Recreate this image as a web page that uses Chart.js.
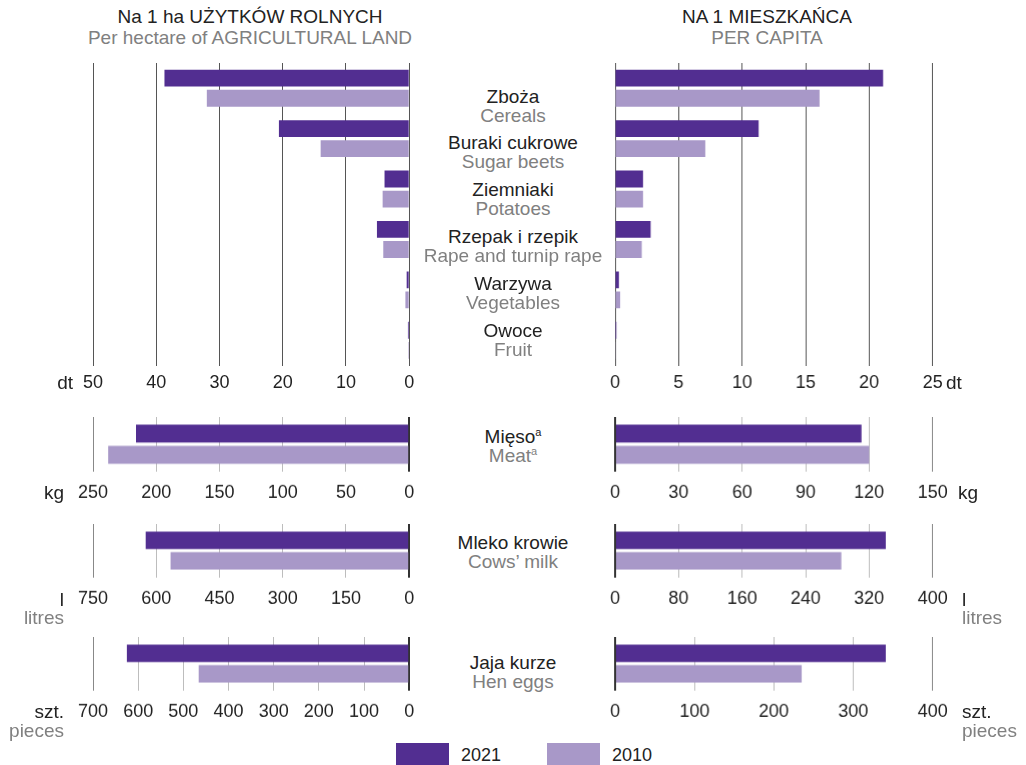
<!DOCTYPE html>
<html>
<head>
<meta charset="utf-8">
<script src="https://cdn.jsdelivr.net/npm/chart.js@4/dist/chart.umd.min.js"></script>
<style>
  body { margin: 0; background: #fff; font-family: "Liberation Sans", Arial, sans-serif; }
  #wrap { position: relative; width: 1026px; height: 765px; overflow: hidden; }
  .panel { position: absolute; }
  .txt { position: absolute; font-size: 19px; line-height: 20px; color: #222; white-space: nowrap; }
  .num { font-size: 18px; }
  .gray { color: #808080; }
  .ctr { transform: translateX(-50%); text-align: center; }
  .rt { transform: translateX(-100%); text-align: right; }
  sup { font-size: 11px; line-height: 0; vertical-align: 7px; }
  .box { position: absolute; width: 53px; height: 24px; }
</style>
</head>
<body>
<div id="wrap"></div>
<script>
// categories
const topNamesPl = ["Zboża", "Buraki cukrowe", "Ziemniaki", "Rzepak i rzepik", "Warzywa", "Owoce"];
const topNamesEn = ["Cereals", "Sugar beets", "Potatoes", "Rape and turnip rape", "Vegetables", "Fruit"];

// crops, dt
const haCrops2021 = [38.7, 20.6, 3.9, 5.1, 0.4, 0.2];
const haCrops2010 = [32.0, 14.0, 4.2, 4.1, 0.6, 0.15];
const capCrops2021 = [21.1, 11.3, 2.2, 2.8, 0.3, 0.1];
const capCrops2010 = [16.1, 7.1, 2.2, 2.1, 0.4, 0.05];

// meat kg, milk l, eggs pieces -> [2021, 2010]
const haMeat = [216, 238];
const capMeat = [116.4, 120];
const haMilk = [625, 566];
const capMilk = [341, 285];
const haEggs = [625, 466];
const capEggs = [341, 235];

const years = ["2021", "2010"];
const colors = ["#522e91", "#a898c8"];

const wrap = document.getElementById("wrap");

function addText(html, x, y, cls) {
  const d = document.createElement("div");
  d.className = "txt " + (cls || "");
  d.style.left = x + "px";
  d.style.top = (y - 10) + "px";
  d.innerHTML = html;
  wrap.appendChild(d);
  return d;
}

const PAD = 30;
const AXIS_H = 32;

function makePanel(opts) {
  const plotW = opts.right - opts.left;
  const plotH = opts.bottom - opts.top;
  const div = document.createElement("div");
  div.className = "panel";
  div.style.left = (opts.left - PAD) + "px";
  div.style.top = opts.top + "px";
  div.style.width = (plotW + 2 * PAD) + "px";
  div.style.height = (plotH + AXIS_H) + "px";
  const cv = document.createElement("canvas");
  div.appendChild(cv);
  wrap.appendChild(div);

  const gridColor = (c) => {
    if (opts.top > 400) {
      if (c.tick.value === 0) return "#333";
      if (c.tick.value === opts.max) return "#888";
      return "#bdbdbd";
    }
    return "#555";
  };

  return new Chart(cv, {
    type: "bar",
    data: {
      labels: opts.labels,
      datasets: [
        { label: years[0], data: opts.d2021, backgroundColor: colors[0] },
        { label: years[1], data: opts.d2010, backgroundColor: colors[1] },
      ],
    },
    options: {
      indexAxis: "y",
      responsive: true,
      maintainAspectRatio: false,
      animation: false,
      layout: { padding: { left: PAD, right: PAD, top: 0, bottom: 0 } },
      plugins: { legend: { display: false }, tooltip: { enabled: false } },
      datasets: { bar: { categoryPercentage: opts.catPct, barPercentage: opts.barPct } },
      scales: {
        y: { display: false },
        x: {
          min: 0,
          max: opts.max,
          reverse: opts.reverse,
          afterFit: (s) => { s.height = AXIS_H; },
          border: { display: false },
          grid: { color: gridColor, lineWidth: (c) => (opts.top > 400 && c.tick.value === 0 ? 2 : 1), drawTicks: false },
          ticks: {
            stepSize: opts.step,
            padding: opts.tickPad,
            color: "#222",
            font: { family: "'Liberation Sans', Arial, sans-serif", size: 18 },
          },
        },
      },
    },
  });
}

const L = { left: 93.3, right: 409.5 };
const R = { left: 615.3, right: 932 };

const rows = [
  { top: 62.5, bottom: 365, labels: topNamesPl, en: topNamesEn, ha: [haCrops2021, haCrops2010], cap: [capCrops2021, capCrops2010],
    maxL: 50, stepL: 10, maxR: 25, stepR: 5, catPct: 0.796, barPct: 0.836, tickPad: 7 },
  { top: 417, bottom: 470.7, labels: ["Mięso<sup>a</sup>"], en: ["Meat<sup>a</sup>"], ha: [[haMeat[0]], [haMeat[1]]], cap: [[capMeat[0]], [capMeat[1]]],
    maxL: 250, stepL: 50, maxR: 150, stepR: 30, catPct: 0.78, barPct: 0.843, tickPad: 11, off: 3 },
  { top: 524, bottom: 576.5, labels: ["Mleko krowie"], en: ["Cows’ milk"], ha: [[haMilk[0]], [haMilk[1]]], cap: [[capMilk[0]], [capMilk[1]]],
    maxL: 750, stepL: 150, maxR: 400, stepR: 80, catPct: 0.78, barPct: 0.843, tickPad: 11, off: 2 },
  { top: 637, bottom: 689.5, labels: ["Jaja kurze"], en: ["Hen eggs"], ha: [[haEggs[0]], [haEggs[1]]], cap: [[capEggs[0]], [capEggs[1]]],
    maxL: 700, stepL: 100, maxR: 400, stepR: 100, catPct: 0.78, barPct: 0.843, tickPad: 11, off: 9 },
];

rows.forEach((r, i) => {
  makePanel({ left: L.left, right: L.right, top: r.top, bottom: r.bottom, labels: r.labels, d2021: r.ha[0], d2010: r.ha[1],
    max: r.maxL, step: r.stepL, reverse: true, catPct: r.catPct, barPct: r.barPct, tickPad: r.tickPad });
  const chart = makePanel({ left: R.left, right: R.right, top: r.top, bottom: r.bottom, labels: r.labels, d2021: r.cap[0], d2010: r.cap[1],
    max: r.maxR, step: r.stepR, reverse: false, catPct: r.catPct, barPct: r.barPct, tickPad: r.tickPad });

  // category labels between the panels
  const ys = chart.scales.y;
  const mid = (chart.chartArea.top + chart.chartArea.bottom) / 2;
  r.labels.forEach((name, k) => {
    let y = ys.getPixelForValue(k);
    if (i === 0) y = mid + 9.5 + (y - mid) * 0.93; else y += r.off;
    y += r.top; // chart area top = canvas top
    addText(name, 513, y - 9.5, "ctr");
    addText(r.en[k], 513, y + 9.5, "ctr gray");
  });
});

// titles
addText("Na 1 ha UŻYTKÓW ROLNYCH", 250, 17, "ctr");
addText("Per hectare of AGRICULTURAL LAND", 250, 38, "ctr gray");
addText("NA 1 MIESZKAŃCA", 767, 17, "ctr");
addText("PER CAPITA", 767, 38, "ctr gray");

// units
addText("dt", 73, 383, "rt");
addText("dt", 946, 383);
addText("kg", 64, 493, "rt");
addText("kg", 958, 493);
addText("l", 64, 600, "rt");
addText("litres", 64, 618, "rt gray");
addText("l", 962, 600);
addText("litres", 962, 618, "gray");
addText("szt.", 64, 712, "rt");
addText("pieces", 64, 731, "rt gray");
addText("szt.", 962, 712);
addText("pieces", 962, 731, "gray");

// legend
[396, 547].forEach((x, k) => {
  const b = document.createElement("div");
  b.className = "box";
  b.style.left = x + "px";
  b.style.top = "743px";
  b.style.background = colors[k];
  wrap.appendChild(b);
  addText(years[k], x + 65, 755, "num");
});
</script>
</body>
</html>
